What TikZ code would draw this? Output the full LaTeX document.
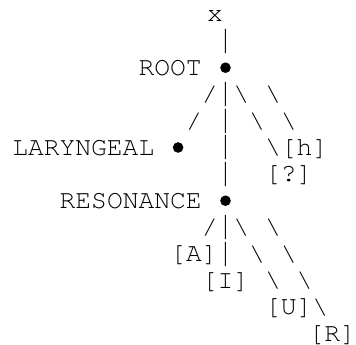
\documentclass[tikz,border=0pt]{standalone}
\usepackage{fontspec}
\usepackage{graphicx}
\setmonofont{TeX Gyre Cursor}
\newcommand{\mybar}{\raisebox{-5pt}{\resizebox*{\width}{24.3pt}{\raisebox{\depth}{|}}}}
\newcommand{\myslash}{\raisebox{-1.5pt}{\resizebox*{\width}{17.5pt}{\raisebox{\depth}{/}}}}
\newcommand{\mybslash}{\raisebox{-1.5pt}{\resizebox*{\width}{17.5pt}{\raisebox{\depth}{\textbackslash}}}}
\begin{document}
\begin{tikzpicture}[x=15.8pt,y=-26.6pt,
  glyph/.style={inner sep=0pt, outer sep=0pt, anchor=base, text=black,
    font=\ttfamily\fontsize{26.3}{26.6}\selectfont},
  dot/.style={circle, fill=black, draw=none, inner sep=0pt, minimum size=10.6pt, yshift=7.5pt}]
\useasboundingbox (-225.5pt,22pt) rectangle (130.5pt,-323pt);
% row 0
\node[glyph] (xtop) at (-0.665,0) {x};
% row 1
\node[glyph] (v1) at (0,1) {\mybar};
% row 2
\node[glyph] (root) at (-3.5,2) {ROOT};
\node[dot] (rootdot) at (0,2) {};
% row 3
\node[glyph] (s3a) at (-1,3) {\myslash};
\node[glyph] (v3) at (0,3) {\mybar};
\node[glyph] (b3a) at (1,3) {\mybslash};
\node[glyph] (b3b) at (3,3) {\mybslash};
% row 4
\node[glyph] (s4a) at (-2,4) {\myslash};
\node[glyph] (v4) at (0,4) {\mybar};
\node[glyph] (b4a) at (2,4) {\mybslash};
\node[glyph] (b4b) at (4,4) {\mybslash};
% row 5
\node[glyph] (lar) at (-9,5) {LARYNGEAL};
\node[dot] (lardot) at (-3,5) {};
\node[glyph] (v5) at (0,5) {\mybar};
\node[glyph] (b5) at (3,5) {\mybslash};
\node[glyph] (h) at (5,5) {[h]};
% row 6
\node[glyph] (v6) at (0,6) {\mybar};
\node[glyph] (q) at (4,6) {[?]};
% row 7
\node[glyph] (res) at (-6,7) {RESONANCE};
\node[dot] (resdot) at (0,7) {};
% row 8
\node[glyph] (s8a) at (-1,8) {\myslash};
\node[glyph] (v8) at (0,8) {\mybar};
\node[glyph] (b8a) at (1,8) {\mybslash};
\node[glyph] (b8b) at (3,8) {\mybslash};
% row 9
\node[glyph] (A) at (-2,9) {[A]};
\node[glyph] (v9) at (0,9) {\mybar};
\node[glyph] (b9a) at (2,9) {\mybslash};
\node[glyph] (b9b) at (4,9) {\mybslash};
% row 10
\node[glyph] (I) at (0,10) {[I]};
\node[glyph] (b10a) at (3,10) {\mybslash};
\node[glyph] (b10b) at (5,10) {\mybslash};
% row 11
\node[glyph] (U) at (4,11) {[U]};
\node[glyph] (b11) at (6,11) {\mybslash};
% row 12
\node[glyph] (R) at (6.76,12) {[R]};
\end{tikzpicture}
\end{document}
